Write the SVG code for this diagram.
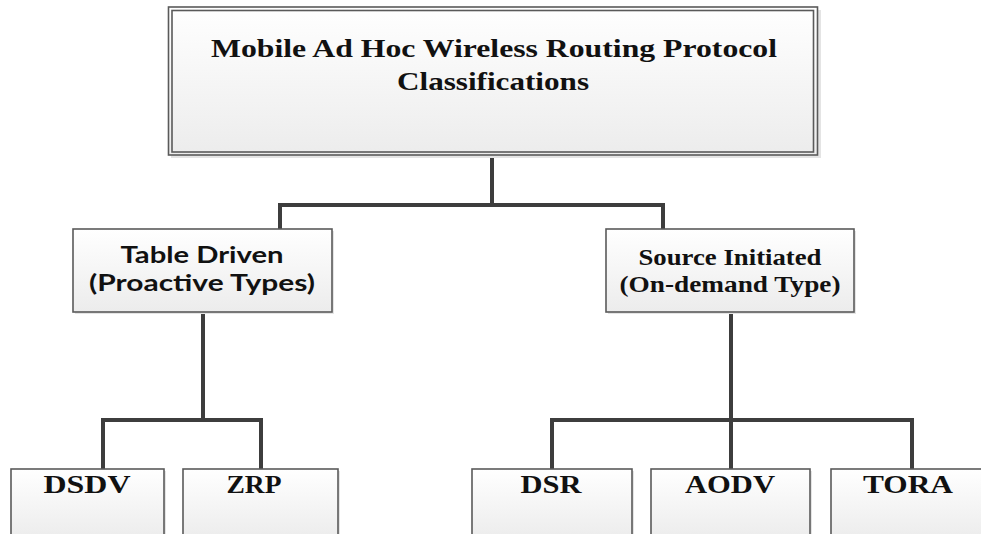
<svg xmlns="http://www.w3.org/2000/svg" width="981" height="534" viewBox="0 0 981 534">
  <defs>
    <linearGradient id="boxFill" x1="0" y1="0" x2="0" y2="1">
      <stop offset="0" stop-color="#ffffff"/>
      <stop offset="1" stop-color="#ececec"/>
    </linearGradient>
    <style>
      .shadow { fill: #e4e4e4; stroke: none; }
      .box { fill: url(#boxFill); stroke: #5a5a5a; stroke-width: 1.6; }
      .frame { fill: none; stroke: #5a5a5a; stroke-width: 1.6; }
      .link { fill: none; stroke: #3d3d3d; stroke-width: 4; stroke-linejoin: miter; stroke-linecap: butt; }
      .serif { font-family: "Liberation Serif", "Times New Roman", serif; font-weight: bold; fill: #111; text-anchor: middle; }
      .sans { font-family: "Lato", "Open Sans", "Liberation Sans", sans-serif; font-weight: bold; fill: #111; text-anchor: middle; }
    </style>
  </defs>
  <rect width="981" height="534" fill="#ffffff"/>

  <!-- connectors -->
  <g id="connectors">
    <path class="link" d="M492 155 V205 M280 229 V205 H663 V229"/>
    <path class="link" d="M203 312 V420 M103 469 V420 H261 V469"/>
    <path class="link" d="M731 312 V469 M552 469 V420 H912 V469"/>
  </g>

  <!-- root -->
  <g id="root">
    <rect class="shadow" x="171" y="10" width="650" height="148"/>
    <rect class="box" x="168.5" y="7" width="649" height="148"/>
    <rect class="frame" x="172" y="10.5" width="641.5" height="141.5"/>
    <text class="serif" font-size="26" x="494" y="57" textLength="566" lengthAdjust="spacingAndGlyphs">Mobile Ad Hoc Wireless Routing Protocol</text>
    <text class="serif" font-size="26" x="493" y="90" textLength="192" lengthAdjust="spacingAndGlyphs">Classifications</text>
  </g>

  <!-- level 1 -->
  <g id="table-driven">
    <rect class="shadow" x="75" y="231" width="259" height="83"/>
    <rect class="box" x="73" y="229" width="259" height="83"/>
    <text class="sans" font-size="23" x="202" y="263" textLength="163" lengthAdjust="spacingAndGlyphs">Table Driven</text>
    <text class="sans" font-size="23" x="202" y="291" textLength="226" lengthAdjust="spacingAndGlyphs">(Proactive Types)</text>
  </g>
  <g id="source-initiated">
    <rect class="shadow" x="608" y="231" width="248" height="83"/>
    <rect class="box" x="606" y="229" width="248" height="83"/>
    <text class="serif" font-size="23" x="730" y="265" textLength="183" lengthAdjust="spacingAndGlyphs">Source Initiated</text>
    <text class="serif" font-size="23" x="730" y="292" textLength="221" lengthAdjust="spacingAndGlyphs">(On-demand Type)</text>
  </g>

  <!-- level 2 -->
  <g id="dsdv">
    <rect class="shadow" x="13" y="471" width="153" height="70"/>
    <rect class="box" x="11" y="469" width="153" height="70"/>
    <text class="serif" font-size="25" x="87" y="493" textLength="87" lengthAdjust="spacingAndGlyphs">DSDV</text>
  </g>
  <g id="zrp">
    <rect class="shadow" x="185" y="471" width="155" height="70"/>
    <rect class="box" x="183" y="469" width="155" height="70"/>
    <text class="serif" font-size="25" x="254" y="493" textLength="55" lengthAdjust="spacingAndGlyphs">ZRP</text>
  </g>
  <g id="dsr">
    <rect class="shadow" x="474" y="471" width="160" height="70"/>
    <rect class="box" x="472" y="469" width="160" height="70"/>
    <text class="serif" font-size="25" x="551" y="493" textLength="61" lengthAdjust="spacingAndGlyphs">DSR</text>
  </g>
  <g id="aodv">
    <rect class="shadow" x="653" y="471" width="159" height="70"/>
    <rect class="box" x="651" y="469" width="159" height="70"/>
    <text class="serif" font-size="25" x="730" y="493" textLength="90" lengthAdjust="spacingAndGlyphs">AODV</text>
  </g>
  <g id="tora">
    <rect class="shadow" x="833" y="471" width="159" height="70"/>
    <rect class="box" x="831" y="469" width="159" height="70"/>
    <text class="serif" font-size="25" x="908" y="493" textLength="90" lengthAdjust="spacingAndGlyphs">TORA</text>
  </g>
</svg>
